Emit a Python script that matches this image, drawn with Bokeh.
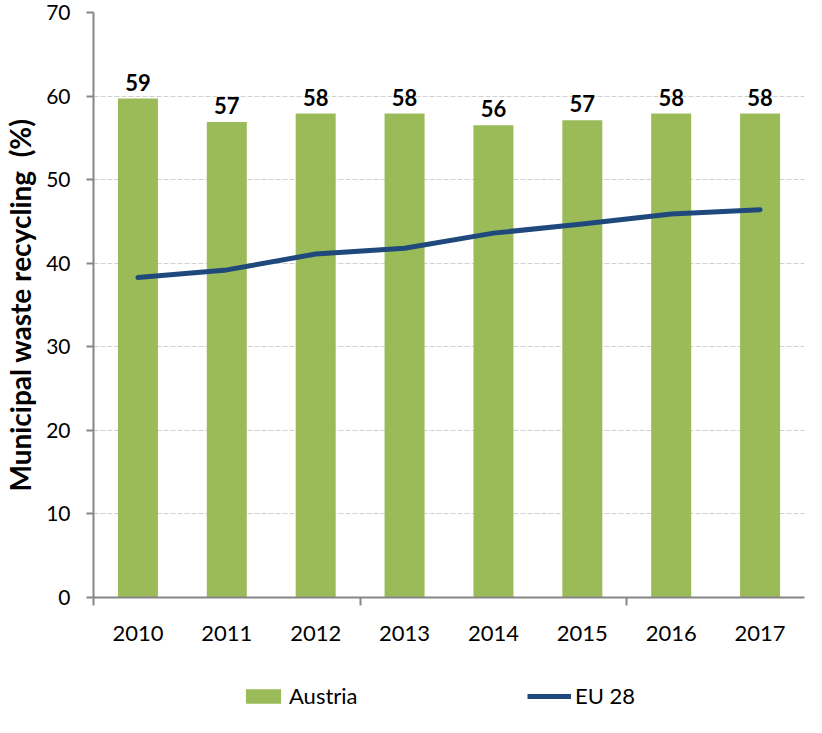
from bokeh.plotting import figure
from bokeh.models import ColumnDataSource, FixedTicker, Legend, LegendItem, Range1d
from bokeh.layouts import column
from bokeh.core.properties import value
from bokeh.embed import file_html
from bokeh.resources import INLINE

# data
years = [2010, 2011, 2012, 2013, 2014, 2015, 2016, 2017]
austria = [59.7, 56.9, 57.9, 57.9, 56.5, 57.1, 57.9, 57.9]
austria_labels = ["59", "57", "58", "58", "56", "57", "58", "58"]
eu28 = [38.3, 39.2, 41.1, 41.8, 43.6, 44.7, 45.9, 46.4]
y_ticks = [0, 10, 20, 30, 40, 50, 60, 70]

FONT = "Lato"
AXIS_GREY = "#868686"
GREEN = "#9bbb59"
NAVY = "#1f497d"

source = ColumnDataSource(data=dict(year=years, austria=austria, label=austria_labels, eu28=eu28))
x_range = Range1d(years[0] - 0.5, years[-1] + 0.5)

p = figure(
    width=806,
    height=660,
    x_range=x_range,
    y_range=Range1d(0, 70),
    output_backend="svg",
    toolbar_location=None,
    tools="",
    min_border_left=87,
    min_border_right=2,
    min_border_top=12,
    min_border_bottom=63,
)
p.outline_line_color = None

p.vbar(x="year", top="austria", width=0.45, source=source,
       fill_color=GREEN, line_color=None)
p.line(x="year", y="eu28", source=source, line_color=NAVY,
       line_width=5, line_cap="round", line_join="round")

p.text(x="year", y="austria", text="label", source=source,
       text_align="center", text_baseline="bottom", y_offset=-8,
       text_font=value(FONT), text_font_style="bold", text_font_size="22px",
       text_color="black")

# grid
p.xgrid.grid_line_color = None
p.ygrid.ticker = FixedTicker(ticks=y_ticks[1:])
p.ygrid.grid_line_color = "#d0d0d0"
p.ygrid.grid_line_dash = "5 2"
p.ygrid.grid_line_width = 1.2

# y axis
p.yaxis.ticker = FixedTicker(ticks=y_ticks)
p.yaxis.axis_label = "Municipal waste recycling\u00a0 (%)"
p.yaxis.axis_label_text_font = FONT
p.yaxis.axis_label_text_font_style = "bold"
p.yaxis.axis_label_text_font_size = "28px"
p.yaxis.axis_label_text_color = "black"
p.yaxis.axis_label_standoff = 6
p.yaxis.major_label_text_font = FONT
p.yaxis.major_label_text_font_size = "21px"
p.yaxis.major_label_text_color = "black"
p.yaxis.major_label_standoff = 16
p.yaxis.major_tick_out = 7
p.yaxis.major_tick_in = 0
p.yaxis.minor_tick_line_color = None
p.yaxis.axis_line_color = AXIS_GREY
p.yaxis.axis_line_width = 2
p.yaxis.major_tick_line_color = AXIS_GREY
p.yaxis.major_tick_line_width = 2

# x axis: labels at the years, small ticks every three categories
p.xaxis.ticker = FixedTicker(ticks=years,
                             minor_ticks=[years[0] - 0.5, years[2] + 0.5, years[5] + 0.5])
p.xaxis.major_label_overrides = {y: str(y) for y in years}
p.xaxis.major_label_text_font = FONT
p.xaxis.major_label_text_font_size = "22px"
p.xaxis.major_label_text_color = "black"
p.xaxis.major_label_standoff = 20
p.xaxis.major_tick_line_color = None
p.xaxis.minor_tick_line_color = AXIS_GREY
p.xaxis.minor_tick_line_width = 2
p.xaxis.minor_tick_out = 8
p.xaxis.minor_tick_in = 0
p.xaxis.axis_line_color = AXIS_GREY
p.xaxis.axis_line_width = 2

# legend strip below the chart (hidden copies of the series only feed the legend glyphs)
lg = figure(
    width=806,
    height=57,
    x_range=x_range,
    y_range=Range1d(0, 70),
    output_backend="svg",
    toolbar_location=None,
    tools="",
    min_border_left=87,
    min_border_right=2,
    min_border_top=0,
    min_border_bottom=0,
    x_axis_type=None,
    y_axis_type=None,
)
lg.outline_line_color = None
lg.grid.grid_line_color = None
bars_key = lg.vbar(x="year", top="austria", width=0.45, source=source,
                   fill_color=GREEN, line_color=None, visible=False)
line_key = lg.line(x="year", y="eu28", source=source, line_color=NAVY,
                   line_width=5, visible=False)

for item, loc in ((LegendItem(label="Austria", renderers=[bars_key]), (148, 8)),
                  (LegendItem(label="EU 28", renderers=[line_key]), (434, 8))):
    leg = Legend(items=[item], location=loc, glyph_width=44, glyph_height=18,
                 label_standoff=4, padding=0, margin=0, border_line_color=None,
                 background_fill_alpha=0, inactive_fill_alpha=0,
                 label_text_font=FONT, label_text_font_size="22px",
                 label_text_color="black")
    lg.add_layout(leg, "center")

layout = column(p, lg, spacing=0)

open("out.html", "w").write(file_html(layout, INLINE))
